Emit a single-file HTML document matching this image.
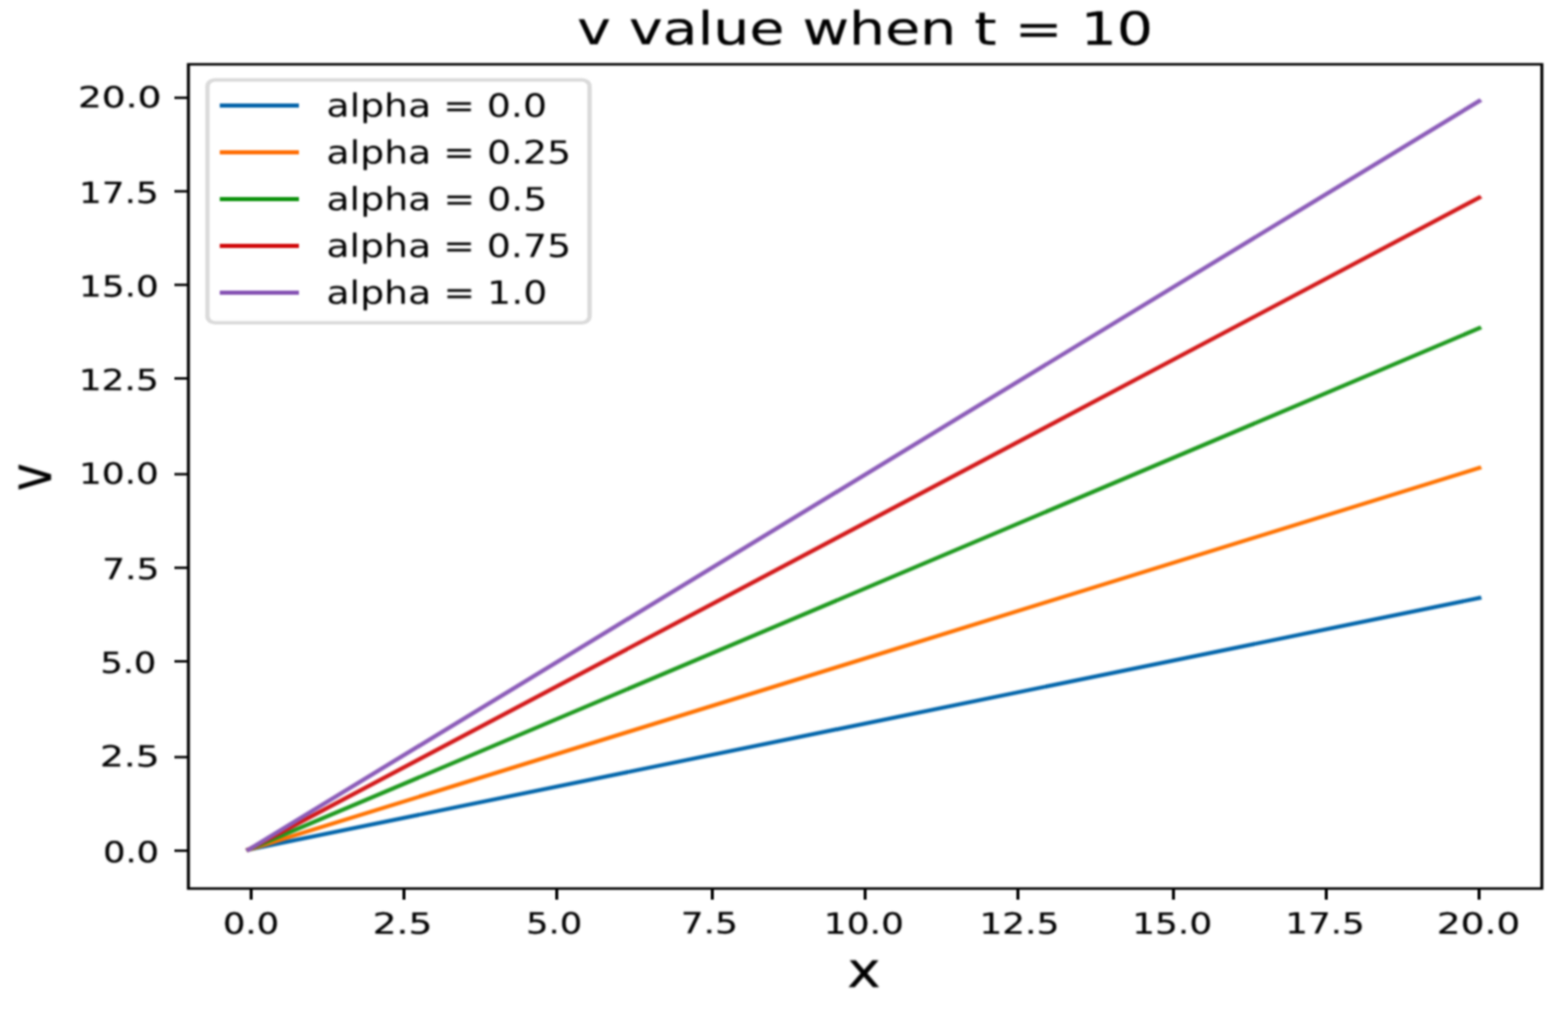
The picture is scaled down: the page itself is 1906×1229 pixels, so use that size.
<!DOCTYPE html>
<html lang="en"><head><meta charset="utf-8"><title>v value when t = 10</title>
<style>
html,body{margin:0;padding:0;background:#fff;}
body{width:1906px;height:1229px;overflow:hidden;}
svg{display:block;}
text{font-family:"DejaVu Sans", "Liberation Sans", sans-serif;text-anchor:middle;stroke-linejoin:round;}
.t{font-size:37.61px;fill:#000000;stroke:#000000;stroke-width:0.2442474448636235;}
.g{font-size:37.61px;fill:#000000;stroke:#000000;stroke-width:0.0;}
.l{font-size:56.41px;fill:#000000;stroke:#000000;stroke-width:0.2725014089311766;}
</style></head><body>
<svg xmlns="http://www.w3.org/2000/svg" width="1906" height="1229" viewBox="0 0 1906 1229">
<defs>
<filter id="soft1" color-interpolation-filters="sRGB" x="0" y="0" width="1906" height="1229" filterUnits="userSpaceOnUse"><feConvolveMatrix order="3" kernelMatrix="1 2 1 2 4 2 1 2 1" divisor="16" edgeMode="none" preserveAlpha="false"/></filter>
<filter id="soft2" color-interpolation-filters="sRGB" x="0" y="0" width="1906" height="1229" filterUnits="userSpaceOnUse"><feConvolveMatrix order="3" kernelMatrix="1 2 1 2 4 2 1 2 1" divisor="16" edgeMode="none" preserveAlpha="false"/><feConvolveMatrix order="3" kernelMatrix="1 2 1 2 4 2 1 2 1" divisor="16" edgeMode="none" preserveAlpha="false"/></filter>
<filter id="soft3" color-interpolation-filters="sRGB" x="0" y="0" width="1906" height="1229" filterUnits="userSpaceOnUse"><feConvolveMatrix order="3" kernelMatrix="1 2 1 2 4 2 1 2 1" divisor="16" edgeMode="none" preserveAlpha="false"/><feConvolveMatrix order="3" kernelMatrix="1 2 1 2 4 2 1 2 1" divisor="16" edgeMode="none" preserveAlpha="false"/><feConvolveMatrix order="3" kernelMatrix="1 2 1 2 4 2 1 2 1" divisor="16" edgeMode="none" preserveAlpha="false"/></filter>
</defs>
<rect x="0" y="0" width="1906" height="1229" fill="#ffffff"/>
<g filter="url(#soft3)">
<g transform="translate(229.00 78.15) scale(3.31694 2.70797)" fill="none" stroke-linecap="square" stroke-width="1.764">
<line x1="22.080" y1="352.540" x2="472.980" y2="239.598" stroke="#0064aa"/>
<line x1="22.080" y1="352.540" x2="472.980" y2="181.206" stroke="#ff7200"/>
<line x1="22.080" y1="352.540" x2="472.980" y2="118.515" stroke="#1d991d"/>
<line x1="22.080" y1="352.540" x2="472.980" y2="59.869" stroke="#d31819"/>
<line x1="22.080" y1="352.540" x2="472.980" y2="16.540" stroke="#8b5bb8"/>
</g></g>
<g filter="url(#soft2)">
<g transform="translate(229.00 78.15) scale(3.31694 2.70797)">
<g fill="#000000">
<rect x="22.445" y="0" transform="translate(0 370)" width="1.110" height="5.000"/>
<rect x="-5.000" y="14.445" width="5.000" height="1.110"/>
<rect x="78.445" y="0" transform="translate(0 370)" width="1.110" height="5.000"/>
<rect x="-5.000" y="56.445" width="5.000" height="1.110"/>
<rect x="134.445" y="0" transform="translate(0 370)" width="1.110" height="5.000"/>
<rect x="-5.000" y="98.445" width="5.000" height="1.110"/>
<rect x="191.445" y="0" transform="translate(0 370)" width="1.110" height="5.000"/>
<rect x="-5.000" y="140.445" width="5.000" height="1.110"/>
<rect x="247.445" y="0" transform="translate(0 370)" width="1.110" height="5.000"/>
<rect x="-5.000" y="183.445" width="5.000" height="1.110"/>
<rect x="303.445" y="0" transform="translate(0 370)" width="1.110" height="5.000"/>
<rect x="-5.000" y="225.445" width="5.000" height="1.110"/>
<rect x="360.445" y="0" transform="translate(0 370)" width="1.110" height="5.000"/>
<rect x="-5.000" y="267.445" width="5.000" height="1.110"/>
<rect x="416.445" y="0" transform="translate(0 370)" width="1.110" height="5.000"/>
<rect x="-5.000" y="310.445" width="5.000" height="1.110"/>
<rect x="472.445" y="0" transform="translate(0 370)" width="1.110" height="5.000"/>
<rect x="-5.000" y="352.445" width="5.000" height="1.110"/>
</g>
<rect x="0" y="0" width="496" height="370" fill="none" stroke="#000000" stroke-width="1.110" stroke-linejoin="miter"/>
<rect x="7.00" y="7.00" width="140.00" height="109.00" rx="2.78" ry="2.78" fill="#ffffff" fill-opacity="0.8" stroke="#dadada" stroke-width="1.5914210061311165"/>
<rect x="11.50" y="17.575" width="29.00" height="1.850" fill="#0061a8"/>
<rect x="11.50" y="38.575" width="29.00" height="1.850" fill="#ff6b00"/>
<rect x="11.50" y="59.575" width="29.00" height="1.850" fill="#0a910a"/>
<rect x="11.50" y="80.575" width="29.00" height="1.850" fill="#cf0406"/>
<rect x="11.50" y="101.575" width="29.00" height="1.850" fill="#834fb2"/>
</g></g>
<g filter="url(#soft3)">
<text class="l" transform="translate(1051.54 54.05) scale(1.2267 0.9810) rotate(0.05)">v value when t = 10</text>
<text class="l" transform="translate(1050.26 1199.55) scale(1.2233 1.0300) rotate(0.05)">x</text>
<text class="l" transform="translate(61.70 579.93) rotate(-90) scale(1.0027 1.2649) rotate(0.05)">v</text>
<text class="t" transform="translate(305.11 1134.90) scale(1.1398 0.9400) rotate(0.05)">0.0</text>
<text class="t" transform="translate(489.19 1134.96) scale(1.2141 0.9400) rotate(0.05)">2.5</text>
<text class="t" transform="translate(673.59 1134.73) scale(1.1387 0.9400) rotate(0.05)">5.0</text>
<text class="t" transform="translate(862.22 1134.58) scale(1.1586 0.9400) rotate(0.05)">7.5</text>
<text class="t" transform="translate(1050.06 1134.98) scale(1.1631 0.9400) rotate(0.05)">10.0</text>
<text class="t" transform="translate(1239.06 1135.04) scale(1.1630 0.9400) rotate(0.05)">12.5</text>
<text class="t" transform="translate(1424.89 1135.03) scale(1.1592 0.9400) rotate(0.05)">15.0</text>
<text class="t" transform="translate(1610.62 1134.82) scale(1.1571 0.9400) rotate(0.05)">17.5</text>
<text class="t" transform="translate(1797.24 1134.98) scale(1.2115 0.9400) rotate(0.05)">20.0</text>
<text class="t" transform="translate(145.43 130.42) scale(1.2118 0.9400) rotate(0.05)">20.0</text>
<text class="t" transform="translate(144.52 246.86) scale(1.1583 0.9400) rotate(0.05)">17.5</text>
<text class="t" transform="translate(144.53 360.44) scale(1.1581 0.9400) rotate(0.05)">15.0</text>
<text class="t" transform="translate(144.33 474.25) scale(1.1604 0.9400) rotate(0.05)">12.5</text>
<text class="t" transform="translate(144.57 587.91) scale(1.1594 0.9400) rotate(0.05)">10.0</text>
<text class="t" transform="translate(158.99 704.11) scale(1.1607 0.9400) rotate(0.05)">7.5</text>
<text class="t" transform="translate(155.93 818.08) scale(1.1376 0.9400) rotate(0.05)">5.0</text>
<text class="t" transform="translate(157.65 931.69) scale(1.2131 0.9400) rotate(0.05)">2.5</text>
<text class="t" transform="translate(159.25 1048.25) scale(1.1397 0.9400) rotate(0.05)">0.0</text>
<text class="g" transform="translate(530.84 141.92) scale(1.2223 1.0350) rotate(0.05)">alpha = 0.0</text>
<text class="g" transform="translate(545.50 198.80) scale(1.2224 1.0350) rotate(0.05)">alpha = 0.25</text>
<text class="g" transform="translate(531.01 255.61) scale(1.2249 1.0350) rotate(0.05)">alpha = 0.5</text>
<text class="g" transform="translate(545.44 312.46) scale(1.2228 1.0350) rotate(0.05)">alpha = 0.75</text>
<text class="g" transform="translate(530.97 369.29) scale(1.2243 1.0350) rotate(0.05)">alpha = 1.0</text>
</g>
</svg></body></html>
